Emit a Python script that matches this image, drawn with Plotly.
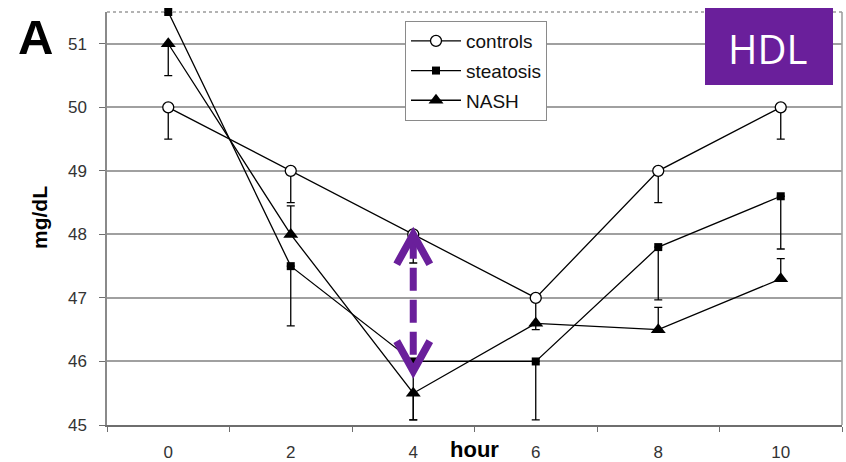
import plotly.graph_objects as go

# HDL over the course of the test, by group
hours = [0, 2, 4, 6, 8, 10]

controls = [50.0, 49.0, 48.0, 47.0, 49.0, 50.0]
controls_err_plus = [0, 0, 0, 0, 0, 0]
controls_err_minus = [0.5, 0.5, 0.45, 0.5, 0.5, 0.5]

steatosis = [51.5, 47.5, 46.0, 46.0, 47.8, 48.6]
steatosis_err_plus = [0, 0, 0, 0, 0, 0]
steatosis_err_minus = [0, 0.94, 0.92, 0.92, 0.83, 0.83]

nash = [51.0, 48.0, 45.5, 46.6, 46.5, 47.3]
nash_err_plus = [0, 0.45, 0, 0, 0.35, 0.32]
nash_err_minus = [0.5, 0, 0.42, 0, 0, 0]

y_ticks = [45, 46, 47, 48, 49, 50, 51]
x_ticks = [0, 2, 4, 6, 8, 10]

# highlighted gap at hour 4: controls vs. the lowest groups
gap_hour = 4
gap_top = controls[hours.index(gap_hour)]
gap_bottom = 45.85

W, H = 846, 462
L, R, T, B = 107, 4, 12, 37
PW, PH = W - L - R, H - T - B


def px(x):
    return (x - L) / PW


def py(y):
    return (H - B - y) / PH


FONT = "Liberation Sans, Arial, sans-serif"
PURPLE = "#6a1f9b"

fig = go.Figure()

series = [
    ("controls", controls, controls_err_plus, controls_err_minus,
     dict(symbol="circle", size=11, color="white", line=dict(color="black", width=1.3))),
    ("steatosis", steatosis, steatosis_err_plus, steatosis_err_minus,
     dict(symbol="square", size=8, color="black", line=dict(color="black", width=0))),
    ("NASH", nash, nash_err_plus, nash_err_minus,
     dict(symbol="triangle-up", size=13, color="black", line=dict(color="black", width=0))),
]

for name, vals, ep, em, marker in series:
    fig.add_trace(go.Scatter(
        x=hours, y=vals, name=name, mode="lines+markers",
        line=dict(color="black", width=1.3),
        marker=marker,
        error_y=dict(type="data", symmetric=False, array=ep, arrayminus=em,
                     color="black", thickness=1.3, width=4),
        cliponaxis=False,
        legendgroup=name,
    ))

# dashed double-headed arrow
arm_dx, arm_dy = 0.27, 0.47
fig.add_shape(type="line", xref="x", yref="y",
              x0=gap_hour, x1=gap_hour, y0=gap_top - 0.02, y1=gap_bottom + 0.02,
              line=dict(color=PURPLE, width=7, dash="23px,9px"), layer="above")
fig.add_shape(type="path", xref="x", yref="y",
              path=f"M {gap_hour - arm_dx},{gap_top - arm_dy} L {gap_hour},{gap_top} L {gap_hour + arm_dx},{gap_top - arm_dy}",
              line=dict(color=PURPLE, width=7.5), layer="above")
fig.add_shape(type="path", xref="x", yref="y",
              path=f"M {gap_hour - arm_dx},{gap_bottom + arm_dy} L {gap_hour},{gap_bottom} L {gap_hour + arm_dx},{gap_bottom + arm_dy}",
              line=dict(color=PURPLE, width=7.5), layer="above")

# plot-area border: dotted top, solid right
fig.add_shape(type="line", xref="paper", yref="paper", x0=0, x1=1, y0=1, y1=1,
              line=dict(color="#9a9a9a", width=1.5, dash="dot"), layer="below")
fig.add_shape(type="line", xref="paper", yref="paper", x0=1, x1=1, y0=0, y1=1,
              line=dict(color="#9a9a9a", width=1.5), layer="below")

# HDL label box
fig.add_shape(type="rect", xref="paper", yref="paper",
              x0=px(705), x1=px(833), y0=py(85), y1=py(8),
              fillcolor=PURPLE, line=dict(width=0), layer="above")
fig.add_annotation(xref="paper", yref="paper", x=px(767), y=py(48),
                   text="HDL", showarrow=False, xanchor="center", yanchor="middle",
                   font=dict(family="Open Sans, sans-serif", size=40, color="white"))

# panel letter
fig.add_annotation(xref="paper", yref="paper", x=px(35), y=py(37),
                   text="<b>A</b>", showarrow=False, xanchor="center", yanchor="middle",
                   font=dict(family=FONT, size=49, color="black"))

# axis titles
fig.add_annotation(xref="paper", yref="paper", x=px(39), y=py(218),
                   text="<b>mg/dL</b>", showarrow=False, textangle=-90,
                   xanchor="center", yanchor="middle",
                   font=dict(family=FONT, size=21, color="black"))
fig.add_annotation(xref="x", yref="paper", x=5, y=py(449),
                   text="<b>hour</b>", showarrow=False, xanchor="center", yanchor="middle",
                   font=dict(family=FONT, size=22, color="black"))

fig.update_layout(
    width=W, height=H,
    margin=dict(l=L, r=R, t=T, b=B),
    paper_bgcolor="white", plot_bgcolor="white",
    font=dict(family=FONT, color="#333333"),
    showlegend=True,
    legend=dict(
        x=px(405), y=py(21), xanchor="left", yanchor="top",
        bgcolor="white", bordercolor="#8a8a8a", borderwidth=1,
        font=dict(family=FONT, size=19, color="#111111"),
        itemwidth=50, tracegroupgap=2, traceorder="grouped",
    ),
    xaxis=dict(
        range=[-1, 11], tickmode="array", tickvals=x_ticks,
        ticktext=[str(v) for v in x_ticks],
        ticks="", showgrid=False, zeroline=False, automargin=False,
        showline=True, linecolor="#6e6e6e", linewidth=1.5,
        tickfont=dict(family=FONT, size=17, color="#333333"),
        ticklabelstandoff=11,
        minor=dict(tick0=-1, dtick=2, ticks="outside", ticklen=5,
                   tickcolor="#6e6e6e", tickwidth=1.3, showgrid=False),
    ),
    yaxis=dict(
        range=[45, 51.5], tickmode="array", tickvals=y_ticks,
        ticks="outside", ticklen=6, tickcolor="#6e6e6e", tickwidth=1.3,
        showgrid=True, gridcolor="#a0a0a0", gridwidth=1.6, automargin=False,
        zeroline=False, showline=True, linecolor="#8a8a8a", linewidth=1.5,
        tickfont=dict(family=FONT, size=17, color="#333333"),
        ticklabelstandoff=9,
    ),
)

fig.write_html("out.html")
